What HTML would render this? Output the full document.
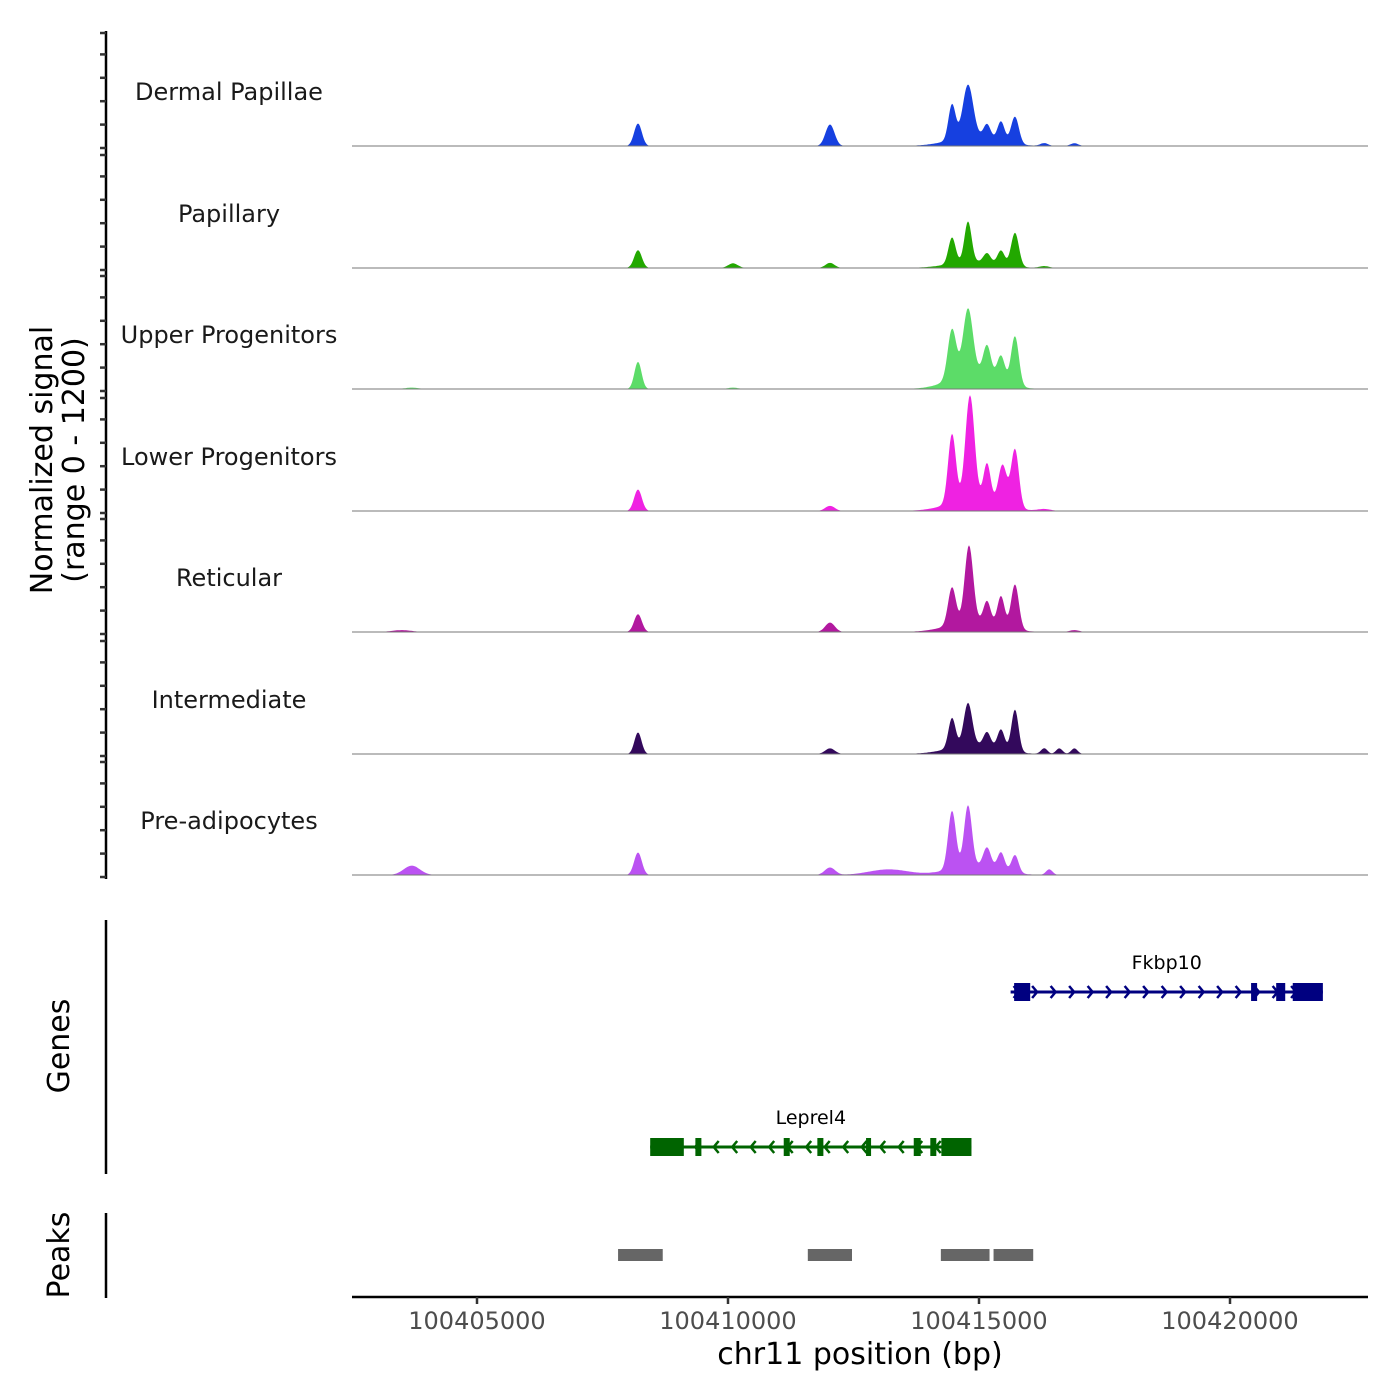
<!DOCTYPE html>
<html><head><meta charset="utf-8"><style>
html,body{margin:0;padding:0;background:#fff;}
svg{display:block;font-family:"DejaVu Sans","Liberation Sans",sans-serif;}
</style></head><body>
<svg id="chart" width="1400" height="1400" viewBox="0 0 1400 1400" xmlns="http://www.w3.org/2000/svg">
<g id="tracks"></g>
<g id="yaxis"></g>
<text transform="translate(52,460) rotate(-90)" text-anchor="middle" font-size="30" fill="#000">Normalized signal</text>
<text transform="translate(84,460) rotate(-90)" text-anchor="middle" font-size="30" fill="#000">(range 0 - 1200)</text>
<line x1="106" y1="920" x2="106" y2="1174" stroke="#000" stroke-width="2.5"/>
<text transform="translate(69,1046) rotate(-90)" text-anchor="middle" font-size="30" fill="#000">Genes</text>
<line x1="106" y1="1213" x2="106" y2="1298" stroke="#000" stroke-width="2.5"/>
<text transform="translate(69,1255) rotate(-90)" text-anchor="middle" font-size="30" fill="#000">Peaks</text>
<g id="genes"></g>
<g id="peaks"></g>
<g id="xaxis"></g>
<text x="860" y="1364" text-anchor="middle" font-size="30" fill="#000">chr11 position (bp)</text>
</svg>
<script>
// ---- data ----
const trackNames = ["Dermal Papillae","Papillary","Upper Progenitors","Lower Progenitors","Reticular","Intermediate","Pre-adipocytes"];
const trackColors = ["#1640e0","#22a800","#5cdc68","#ef22e2","#b2189f","#33095c","#bb52f2"];
// peaks per track: [bp, value, halfWidthBp]
const peaksDermal = [[100408207,240,120],[100412032,230,140],[100414462,380,110],[100414781,560,160],[100415160,150,110],[100415439,210,110],[100415717,290,120],[100414900,100,750],[100416300,30,120],[100416900,30,120]];
const peaksPapillary = [[100408207,190,120],[100410100,50,150],[100412032,55,140],[100414462,280,110],[100414781,430,110],[100415160,100,110],[100415439,150,110],[100415717,360,120],[100414900,70,750],[100416300,20,150]];
const peaksUpper = [[100408207,290,110],[100414462,530,130],[100414781,690,150],[100415160,320,120],[100415439,270,120],[100415717,530,120],[100414900,180,700],[100410100,15,150],[100403700,15,200]];
const peaksLower = [[100408207,230,120],[100412032,55,150],[100414462,740,120],[100414820,1110,140],[100415160,400,110],[100415470,430,130],[100415717,630,120],[100414900,130,750],[100416300,20,200]];
const peaksReticular = [[100408207,190,120],[100412032,100,150],[100414462,400,120],[100414800,810,130],[100415160,230,110],[100415439,320,110],[100415717,480,120],[100414900,120,750],[100403500,20,300],[100416900,20,150]];
const peaksIntermediate = [[100408207,230,110],[100412032,60,150],[100414462,320,110],[100414781,450,130],[100415160,150,110],[100415439,210,110],[100415717,450,110],[100414900,100,750],[100416300,60,100],[100416600,60,100],[100416900,60,100]];
const peaksPreadipo = [[100403700,100,250],[100408207,240,120],[100412032,80,160],[100414462,620,120],[100414781,650,120],[100415160,210,120],[100415439,190,110],[100415717,190,110],[100414900,100,750],[100413200,60,600],[100416400,60,100]];
const trackPeaks = [peaksDermal,peaksPapillary,peaksUpper,peaksLower,peaksReticular,peaksIntermediate,peaksPreadipo];

const xTicks = [100405000,100410000,100415000,100420000];
const xTickLabels = ["100405000","100410000","100415000","100420000"];
const genes = [
 {name:"Fkbp10", start:100415630, end:100421850, strand:1, color:"#000080", row:0,
  exons:[[100415700,100416020],[100420420,100420540],[100420920,100421100],[100421250,100421850]]},
 {name:"Leprel4", start:100408450, end:100414850, strand:-1, color:"#006400", row:1,
  exons:[[100408450,100409120],[100409350,100409470],[100411110,100411230],[100411780,100411900],[100412750,100412850],[100413700,100413840],[100414030,100414150],[100414250,100414850]]}
];
const peakRegions = [[100407810,100408700],[100411590,100412470],[100414240,100415210],[100415290,100416080]];

// ---- scales ----
const X0=352, X1=1368, BP0=100402510, BP1=100422749;
const xs = bp => X0 + (bp-BP0)/(BP1-BP0)*(X1-X0);
const pxPerUnit = 23.4/250;
const baselines = [146,268,389,511,632,754,875];
const NS="http://www.w3.org/2000/svg";
function mk(tag,attrs,parent){const e=document.createElementNS(NS,tag);for(const k in attrs)e.setAttribute(k,attrs[k]);parent.appendChild(e);return e;}

// ---- tracks ----
const tg=document.getElementById('tracks');
trackNames.forEach((name,i)=>{
  const b=baselines[i];
  const g=mk('g',{},tg);
  
  
  let d='M'+X0+','+b;
  for(let x=X0;x<=X1;x+=1){
    const bp=BP0+(x-X0)/(X1-X0)*(BP1-BP0);
    let v=0;
    trackPeaks[i].forEach(p=>{const t=Math.abs(bp-p[0])/p[2];if(t<2.5)v+=p[1]*Math.exp(-t*t*1.2);});
    d+=' L'+x+','+(b-v*pxPerUnit).toFixed(1);
  }
  d+=' L'+X1+','+b+' Z';
  const a=mk('path',{d:d,fill:trackColors[i]},g);
  
  
  const l=mk('line',{x1:X0,x2:X1,y1:b,y2:b,stroke:'#777','stroke-width':1},g);
  
  
  const t=mk('text',{x:229,y:b-46,'text-anchor':'middle','font-size':24,fill:'#1a1a1a'},g);
  t.textContent=name;
  
  
});

// ---- y axis ----
const ya=document.getElementById('yaxis');
mk('line',{x1:106,y1:31,x2:106,y2:879,stroke:'#000','stroke-width':2.5},ya);
baselines.forEach(b=>{for(let k=0;k<=4;k++){const y=b+2-k*23.4;
  const tk=mk('line',{x1:100,x2:106,y1:y,y2:y,stroke:'#333','stroke-width':2.5},ya);
  
  }
  const y=b+2-5*23.4+2;
  mk('line',{x1:100,x2:106,y1:y,y2:y,stroke:'#333','stroke-width':2.5},ya);
});

// ---- genes ----
const gg=document.getElementById('genes');
const rowY=[992,1147];
genes.forEach(gn=>{
  const y=rowY[gn.row];
  const g=mk('g',{},gg);
  
  
  mk('line',{x1:xs(gn.start),x2:xs(gn.end),y1:y,y2:y,stroke:gn.color,'stroke-width':3},g);
  for(let x=xs(gn.start)+8;x<xs(gn.end)-5;x+=18.5){
    const dx=gn.strand*5;
    mk('polyline',{points:(x-dx)+','+(y-6)+' '+x+','+y+' '+(x-dx)+','+(y+6),fill:'none',stroke:gn.color,'stroke-width':2.5},g);
  }
  gn.exons.forEach(e=>{const r=mk('rect',{x:xs(e[0]),y:y-9,width:Math.max(5,xs(e[1])-xs(e[0])),height:18,fill:gn.color},g);
    
    });
  const t=mk('text',{x:(xs(gn.start)+xs(gn.end))/2,y:y-23,'text-anchor':'middle','font-size':19,fill:'#000'},g);
  t.textContent=gn.name;
  
  
});

// ---- peaks ----
const pg=document.getElementById('peaks');
peakRegions.forEach(p=>{
  const r=mk('rect',{x:xs(p[0]),y:1249,width:xs(p[1])-xs(p[0]),height:12,fill:'#666'},pg);
  
  
});

// ---- x axis ----
const xa=document.getElementById('xaxis');
mk('line',{x1:X0,x2:X1,y1:1297,y2:1297,stroke:'#000','stroke-width':2.5},xa);
xTicks.forEach((v,i)=>{
  const x=xs(v);
  const tk=mk('line',{x1:x,x2:x,y1:1297,y2:1304,stroke:'#333','stroke-width':2.5},xa);
  
  
  const t=mk('text',{x:x,y:1329,'text-anchor':'middle','font-size':24,fill:'#4d4d4d'},xa);
  t.textContent=xTickLabels[i];
  
  
});
</script>
</body></html>
